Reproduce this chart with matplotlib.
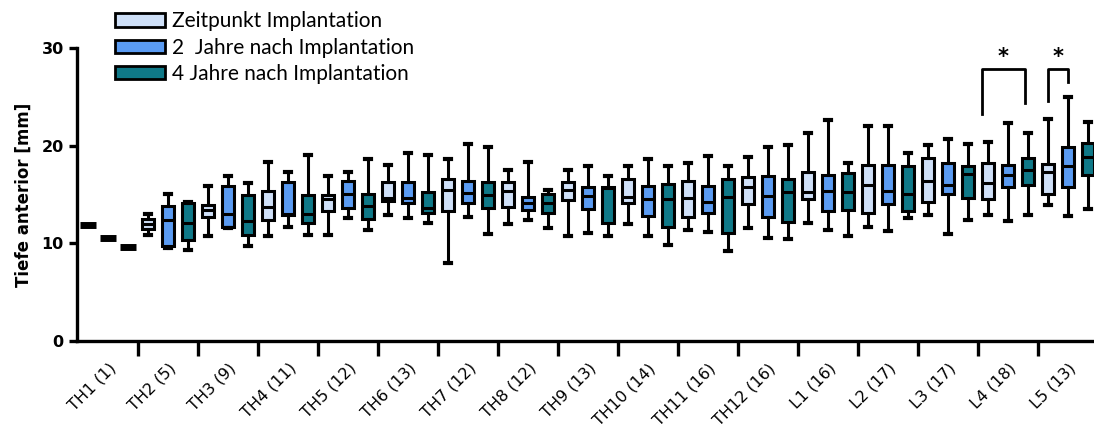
import numpy as np
import matplotlib
matplotlib.use("Agg")
import matplotlib.pyplot as plt
from matplotlib.patches import Patch

# Wirbelhoehen mit Anzahl der Faelle
labels = ['TH1 (1)', 'TH2 (5)', 'TH3 (9)', 'TH4 (11)', 'TH5 (12)', 'TH6 (13)',
          'TH7 (12)', 'TH8 (12)', 'TH9 (13)', 'TH10 (14)', 'TH11 (16)', 'TH12 (16)',
          'L1 (16)', 'L2 (17)', 'L3 (17)', 'L4 (18)', 'L5 (13)']

series_names = ['Zeitpunkt Implantation', '2  Jahre nach Implantation', '4 Jahre nach Implantation']
series_colors = ['#cfe0f8', '#5a9bf2', '#0f7988']

# je Box: [whisker unten, Q1, Median, Q3, whisker oben]
implant = [
    [11.9, 11.9, 11.9, 11.9, 11.9],
    [10.9, 11.5, 12.0, 12.5, 13.0],
    [10.7, 12.7, 13.4, 13.9, 15.9],
    [10.8, 12.4, 13.7, 15.4, 18.3],
    [10.9, 13.3, 14.5, 14.9, 16.9],
    [12.9, 14.3, 14.6, 16.3, 18.05],
    [8.0, 13.3, 15.5, 16.6, 18.6],
    [12.0, 13.7, 15.4, 16.3, 17.5],
    [10.8, 14.4, 15.5, 16.3, 17.5],
    [12.0, 14.1, 14.7, 16.6, 17.9],
    [11.4, 12.7, 14.6, 16.4, 18.2],
    [11.6, 14.0, 15.8, 16.8, 18.8],
    [12.1, 14.55, 15.25, 17.35, 21.25],
    [11.7, 13.15, 15.95, 18.0, 22.05],
    [12.9, 14.2, 16.4, 18.7, 20.1],
    [12.85, 14.5, 16.2, 18.2, 20.4],
    [13.9, 15.1, 17.3, 18.15, 22.7],
]

year2 = [
    [10.5, 10.5, 10.5, 10.5, 10.5],
    [9.55, 9.7, 12.4, 13.8, 15.1],
    [11.6, 11.7, 13.0, 15.9, 16.9],
    [11.7, 12.85, 13.0, 16.3, 17.3],
    [12.6, 13.6, 15.0, 16.4, 17.3],
    [12.6, 14.1, 14.6, 16.3, 19.2],
    [12.7, 14.1, 15.2, 16.4, 20.2],
    [12.4, 13.4, 14.1, 14.7, 18.3],
    [11.1, 13.5, 14.8, 15.8, 17.9],
    [10.8, 12.8, 14.5, 15.9, 18.6],
    [11.2, 13.1, 14.2, 15.9, 18.9],
    [10.55, 12.7, 14.8, 16.9, 19.9],
    [11.4, 13.35, 15.35, 17.0, 22.6],
    [11.3, 14.05, 15.35, 18.05, 22.05],
    [11.0, 15.1, 16.0, 18.2, 20.7],
    [12.3, 15.8, 17.0, 18.05, 22.3],
    [12.75, 15.8, 17.95, 19.9, 25.0],
]

year4 = [
    [9.6, 9.6, 9.6, 9.6, 9.6],
    [9.3, 10.3, 12.1, 14.1, 14.2],
    [9.7, 10.9, 12.3, 14.9, 16.2],
    [10.9, 12.1, 13.0, 14.9, 19.0],
    [11.4, 12.5, 13.8, 15.1, 18.6],
    [12.1, 13.1, 13.6, 15.3, 19.0],
    [11.0, 13.6, 14.9, 16.3, 19.9],
    [11.6, 13.1, 14.1, 15.0, 15.5],
    [10.75, 12.1, 15.65, 15.8, 16.85],
    [9.8, 11.7, 14.5, 16.1, 17.9],
    [9.2, 11.05, 14.7, 16.6, 17.9],
    [10.4, 12.2, 15.25, 16.55, 20.05],
    [10.7, 13.4, 15.3, 17.25, 18.25],
    [12.6, 13.3, 15.1, 17.9, 19.2],
    [12.4, 14.6, 17.1, 17.95, 20.2],
    [12.85, 16.0, 17.5, 18.7, 21.3],
    [13.5, 17.0, 18.8, 20.3, 22.4],
]

# signifikante Vergleiche: (Gruppe, Serie a, Serie b, Hoehe, Bein a, Bein b)
sig_pairs = [
    (15, 0, 2, 27.85, 23.2, 24.4),
    (16, 0, 1, 27.85, 24.55, 26.5),
]

plt.rcParams['font.family'] = ['DejaVu Sans']

fig = plt.figure(figsize=(10.94, 4.37), dpi=100)
ax = fig.add_axes([0.0704, 0.2197, 0.9296, 0.6705])

n_groups = len(labels)
all_series = [implant, year2, year4]

for s, data in enumerate(all_series):
    pos = np.arange(n_groups) * 3 + s
    stats = []
    singles_x = []
    singles_y = []
    for i, row in enumerate(data):
        lo, q1, med, q3, hi = row
        if lo == hi:
            # nur ein Fall -> als Strich zeichnen
            singles_x.append(pos[i])
            singles_y.append(med)
            continue
        stats.append(dict(whislo=lo, q1=q1, med=med, q3=q3, whishi=hi, fliers=[]))
    box_pos = [p for p, row in zip(pos, data) if row[0] != row[4]]
    ax.bxp(stats, positions=box_pos, widths=0.62, patch_artist=True, showfliers=False,
           boxprops=dict(facecolor=series_colors[s], edgecolor='black', linewidth=2.2),
           medianprops=dict(color='black', linewidth=2.2),
           whiskerprops=dict(color='black', linewidth=2.2),
           capprops=dict(color='black', linewidth=3),
           capwidths=0.32, manage_ticks=False)
    ax.plot(singles_x, singles_y, linestyle='none', marker='_', markersize=12,
            markeredgewidth=5, color='black')

# Signifikanzklammern
for g, a, b, top, leg_a, leg_b in sig_pairs:
    xa = g * 3 + a - 0.3 * (b - a > 1)
    xb = g * 3 + b - 0.15 * (b - a > 1)
    ax.plot([xa, xa, xb, xb], [leg_a, top, top, leg_b], color='black', linewidth=2, clip_on=False)
    ax.text((xa + xb) / 2, top + 0.2, '*', ha='center', va='bottom', fontsize=15, fontweight='bold')

ax.set_xlim(-0.55, 50.3)
ax.set_ylim(0, 30)
ax.set_yticks([0, 10, 20, 30])
ax.tick_params(axis='y', labelsize=11.5, width=2.4, length=6)
for t in ax.get_yticklabels():
    t.set_fontweight('bold')
ax.set_ylabel('Tiefe anterior [mm]', fontsize=12, fontweight='bold', labelpad=6)

centers = np.arange(n_groups) * 3 + 1
ax.set_xticks(centers)
ax.set_xticklabels(labels, rotation=45, ha='right', rotation_mode='anchor', fontsize=11.5)
ax.tick_params(axis='x', which='major', length=0, pad=14)
ax.set_xticks(np.arange(n_groups - 1) * 3 + 2.5, minor=True)
ax.tick_params(axis='x', which='minor', length=11, width=2.4)

for side in ['top', 'right']:
    ax.spines[side].set_visible(False)
for side in ['left', 'bottom']:
    ax.spines[side].set_linewidth(2.4)

handles = [Patch(facecolor=c, edgecolor='black', linewidth=2) for c in series_colors]
fig.legend(handles, series_names, loc='upper left', bbox_to_anchor=(0.105, 0.974),
           frameon=False, prop={'family': 'Lato', 'size': 15},
           handlelength=2.4, handleheight=0.6, handletextpad=0.35, labelspacing=0.3,
           borderpad=0, borderaxespad=0)

fig.savefig('out.png', dpi=100)
